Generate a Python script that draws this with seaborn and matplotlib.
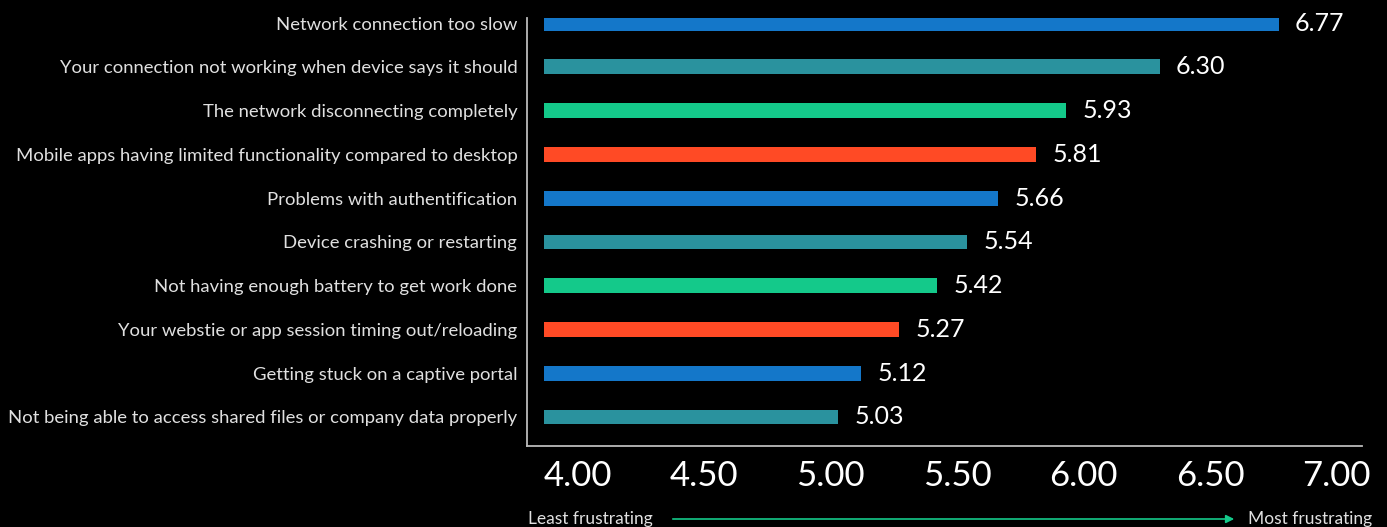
import matplotlib
matplotlib.use("Agg")
import matplotlib.pyplot as plt
import seaborn as sns
import pandas as pd

categories = [
    "Network connection too slow",
    "Your connection not working when device says it should",
    "The network disconnecting completely",
    "Mobile apps having limited functionality compared to desktop",
    "Problems with authentification",
    "Device crashing or restarting",
    "Not having enough battery to get work done",
    "Your webstie or app session timing out/reloading",
    "Getting stuck on a captive portal",
    "Not being able to access shared files or company data properly",
]
values = [6.77, 6.30, 5.93, 5.81, 5.66, 5.54, 5.42, 5.27, 5.12, 5.03]
colors = ["#1477C9", "#2A929E", "#14C98A", "#FF4A25",
          "#1477C9", "#2A929E", "#14C98A", "#FF4A25",
          "#1477C9", "#2A929E"]
xticks = [4.0, 4.5, 5.0, 5.5, 6.0, 6.5, 7.0]

sns.set_theme(style="dark")
plt.rcParams["font.family"] = ["Lato", "DejaVu Sans"]

df = pd.DataFrame({"cat": categories, "val": values})

fig = plt.figure(figsize=(13.87, 5.27), dpi=100, facecolor="black")
ax = fig.add_axes([0.380, 0.154, 0.602, 0.812])
ax.set_facecolor("black")

sns.barplot(data=df, y="cat", x="val", hue="cat", palette=colors,
            legend=False, ax=ax, width=0.34, saturation=1, orient="h",
            linewidth=0, edgecolor="none")

base = 3.865
for p, v in zip(ax.patches, values):
    p.set_x(base)
    p.set_width(v - base)
    p.set_linewidth(0)

for i, v in enumerate(values):
    ax.text(v + 0.065, i, f"{v:.2f}", color="white", fontsize=18,
            va="center", ha="left")

ax.set_xlim(3.8, 7.1)
ax.set_ylim(9.66, -0.12)
ax.set_xticks(xticks)
ax.set_xticklabels([f"{t:.2f}" for t in xticks], color="white", fontsize=25)
ax.tick_params(axis="x", length=0, pad=10)
ax.tick_params(axis="y", length=0, pad=7, labelsize=13.3, labelcolor="#E0E0E0")
ax.set_xlabel("")
ax.set_ylabel("")
ax.grid(False)
for s in ["top", "right"]:
    ax.spines[s].set_visible(False)
for s in ["left", "bottom"]:
    ax.spines[s].set_visible(True)
    ax.spines[s].set_color("#BBBBBB")
    ax.spines[s].set_linewidth(1.3)

fig.text(528 / 1387, 1 - 519 / 527, "Least frustrating", color="#E0E0E0",
         fontsize=12.5, va="center", ha="left")
fig.text(1372 / 1387, 1 - 519 / 527, "Most frustrating", color="#E0E0E0",
         fontsize=12.5, va="center", ha="right")
ax.annotate("", xy=(1237 / 1387, 1 - 519 / 527), xytext=(670 / 1387, 1 - 519 / 527),
            xycoords="figure fraction", textcoords="figure fraction",
            arrowprops=dict(arrowstyle="-|>", color="#14C98A", lw=1.2,
                            mutation_scale=12))

fig.savefig("out.png", dpi=100, facecolor="black")
